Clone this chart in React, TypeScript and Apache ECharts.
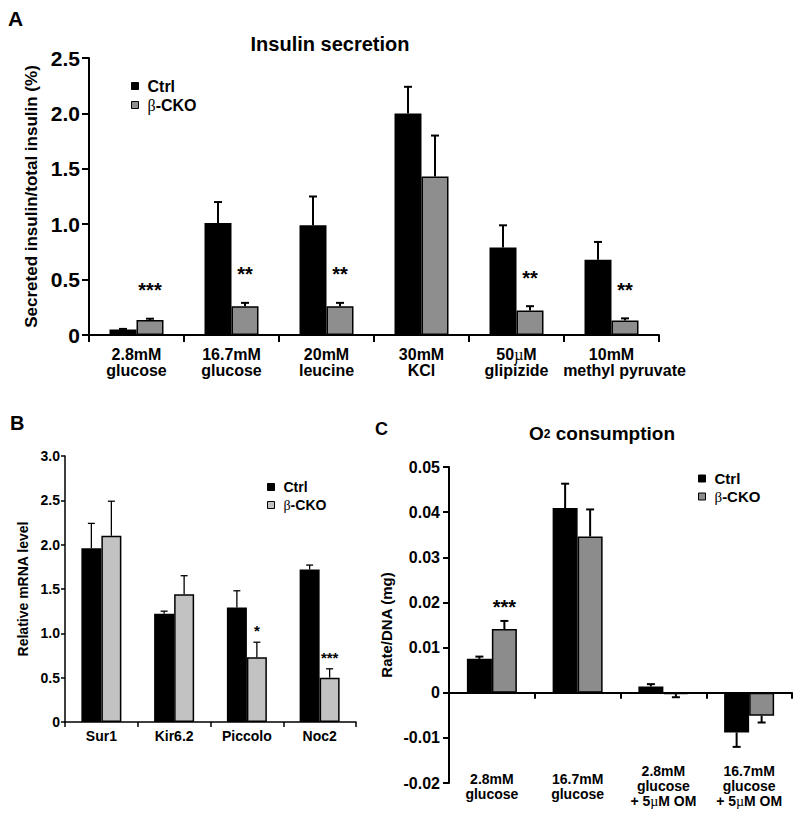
import React, { useEffect, useRef } from 'react';
import * as echarts from 'echarts';

// ---------- Panel A : Insulin secretion ----------
const catsA = ['2.8mM\nglucose', '16.7mM\nglucose', '20mM\nleucine', '30mM\nKCl', '50µM\nglipizide', '10mM\nmethyl pyruvate'];
const ctrlA = [0.05, 1.01, 0.99, 2.0, 0.79, 0.68];
const ctrlSemA = [0.005, 0.19, 0.26, 0.24, 0.2, 0.16];
const koA = [0.135, 0.26, 0.26, 1.43, 0.22, 0.13];
const koSemA = [0.012, 0.03, 0.03, 0.37, 0.04, 0.02];
const starsA = ['***', '**', '**', '', '**', '**'];
const axisA = { min: 0, max: 2.5, interval: 0.5 };

// ---------- Panel B : Relative mRNA level ----------
const catsB = ['Sur1', 'Kir6.2', 'Piccolo', 'Noc2'];
const ctrlB = [1.96, 1.22, 1.29, 1.72];
const ctrlSemB = [0.28, 0.03, 0.19, 0.05];
const koB = [2.1, 1.44, 0.73, 0.5];
const koSemB = [0.39, 0.21, 0.17, 0.1];
const starsB = ['', '', '*', '***'];
const axisB = { min: 0, max: 3, interval: 0.5 };

// ---------- Panel C : O2 consumption ----------
const catsC = ['2.8mM\nglucose', '16.7mM\nglucose', '2.8mM\nglucose\n+ 5µM OM', '16.7mM\nglucose\n+ 5µM OM'];
const ctrlC = [0.0075, 0.0409, 0.0014, -0.0088];
const ctrlSemC = [0.0005, 0.0054, 0.0005, 0.0032];
const koC = [0.0141, 0.0346, -0.0003, -0.0051];
const koSemC = [0.0018, 0.006, 0.0007, 0.0015];
const starsC = ['***', '', '', ''];
const axisC = { min: -0.02, max: 0.05, interval: 0.01 };

const FF = '"Liberation Sans", Arial, Helvetica, sans-serif';
const SERIF = '"Liberation Serif", "DejaVu Serif", serif';

const GRAY_A = '#8e8e8e';
const GRAY_B = '#c2c2c2';
const GRAY_C = '#8c8c8c';

const greek = (s: string) => s.replace(/µ/g, '{m|µ}').replace(/β/g, '{m|β}');

// long second lines sit slightly to the right in the reference
const catLabel = (v: string) =>
  v.split('\n').map((ln) => (ln.length > 12 ? '{w|' + ln + '}' : greek(ln))).join('\n');

function errSeries(grid: number, vals: number[], sems: number[], offset: number, cap: number, lw: number,
  stars: string[] | null, starFont: number, starGap: number) {
  return {
    type: 'custom',
    xAxisIndex: grid,
    yAxisIndex: grid,
    z: 5,
    silent: true,
    data: vals.map((v, i) => [i, v, v + (v < 0 ? -1 : 1) * sems[i]]),
    renderItem: (params: any, api: any) => {
      const i = api.value(0);
      const v = api.value(1);
      const e = api.value(2);
      const a = api.coord([i, v]);
      const b = api.coord([i, e]);
      const x = a[0] + offset;
      const children: any[] = [
        { type: 'line', shape: { x1: x, y1: a[1], x2: x, y2: b[1] }, style: { stroke: '#000', lineWidth: lw } },
        { type: 'line', shape: { x1: x - cap / 2, y1: b[1], x2: x + cap / 2, y2: b[1] }, style: { stroke: '#000', lineWidth: lw } },
      ];
      const s = stars ? stars[params.dataIndex] : '';
      if (s) {
        children.push({
          type: 'text',
          x,
          y: b[1] - starGap + 0.23 * starFont,
          style: { text: s, fontSize: starFont, fontWeight: 'bold', fontFamily: FF, fill: '#000', align: 'center', verticalAlign: 'middle' },
        });
      }
      return { type: 'group', children };
    },
  };
}

function legendFor(left: number, top: number, fontSize: number, gap: number, gray: string) {
  return {
    left,
    top,
    orient: 'vertical',
    padding: 0,
    icon: 'rect',
    itemWidth: 7,
    itemHeight: 7,
    itemGap: gap,
    selectedMode: false,
    data: [
      { name: 'Ctrl', itemStyle: { color: '#000', borderColor: '#000', borderWidth: 1 } },
      { name: 'β-CKO', itemStyle: { color: gray, borderColor: '#000', borderWidth: 1 } },
    ],
    formatter: (n: string) => greek(n),
    textStyle: {
      fontSize,
      fontWeight: 'bold',
      fontFamily: FF,
      color: '#000',
      lineHeight: fontSize,
      padding: [0, 0, 0, 4],
      rich: { m: { fontSize, fontFamily: SERIF, fontWeight: 'normal', color: '#000', lineHeight: fontSize } },
    },
  };
}

const numFmt = (d: number) => (v: number) => (Math.abs(v) < 1e-9 ? '0' : v.toFixed(d));

function yAxisFor(grid: number, ax: any, name: string, nameGap: number, nameSize: number, labelSize: number,
  margin: number, tickLen: number, lw: number, dec: number) {
  return {
    type: 'value',
    gridIndex: grid,
    min: ax.min,
    max: ax.max,
    interval: ax.interval,
    name,
    nameLocation: 'middle',
    nameGap,
    nameTextStyle: { fontSize: nameSize, fontWeight: 'bold', fontFamily: FF, color: '#000' },
    axisLine: { show: true, onZero: false, lineStyle: { color: '#000', width: lw } },
    axisTick: { show: true, length: tickLen, lineStyle: { color: '#000', width: lw } },
    splitLine: { show: false },
    axisLabel: { fontSize: labelSize, fontWeight: 'bold', fontFamily: FF, color: '#000', margin, formatter: numFmt(dec) },
  };
}

function xAxisFor(grid: number, cats: string[], fontSize: number, lineHeight: number, margin: number,
  tickLen: number, lw: number, opts: any = {}) {
  const rich = {
    m: { fontSize, lineHeight, fontFamily: SERIF, fontWeight: 'normal', color: '#000' },
    w: { fontSize, lineHeight, fontFamily: FF, fontWeight: 'bold', color: '#000', padding: [0, 0, 0, 26] },
  };
  return {
    type: 'category',
    gridIndex: grid,
    data: cats,
    position: 'bottom',
    axisLine: { show: opts.line !== false, onZero: opts.onZero !== false, lineStyle: { color: '#000', width: lw } },
    axisTick: { show: opts.line !== false, length: tickLen, alignWithLabel: false, lineStyle: { color: '#000', width: lw } },
    splitLine: { show: false },
    axisLabel: {
      show: opts.labels !== false,
      interval: 0,
      fontSize,
      lineHeight,
      fontWeight: 'bold',
      fontFamily: FF,
      color: '#000',
      margin,
      verticalAlign: opts.vAlign || 'top',
      formatter: (v: string) => catLabel(v),
      rich,
    },
  };
}

function barSeries(grid: number, name: string, vals: number[], color: string, width: number) {
  return {
    type: 'bar',
    name,
    xAxisIndex: grid,
    yAxisIndex: grid,
    data: vals,
    barWidth: width,
    barGap: '0%',
    itemStyle: { color, borderColor: '#000', borderWidth: 1.5 },
  };
}

export default function App() {
  const ref = useRef<HTMLDivElement>(null);

  useEffect(() => {
    if (!ref.current) return;
    const chart = echarts.init(ref.current, null, { renderer: 'svg' });
    const wA = 27, wB = 20, wC = 25;
    const option: any = {
      animation: false,
      backgroundColor: '#fff',
      textStyle: { fontFamily: FF },
      grid: [
        { left: 89, top: 58, width: 570, height: 277, outerBoundsMode: 'none', containLabel: false },
        { left: 65, top: 456, width: 291, height: 266, outerBoundsMode: 'none', containLabel: false },
        { left: 449, top: 467, width: 343, height: 316, outerBoundsMode: 'none', containLabel: false },
      ],
      xAxis: [
        xAxisFor(0, catsA, 16, 16, 11, 7, 2),
        xAxisFor(1, catsB, 14, 16, 6, 5, 1.5),
        xAxisFor(2, catsC, 14, 15, 8, 6, 2, { labels: false }),
        xAxisFor(2, catsC, 14, 15, 3, 6, 2, { line: false, onZero: false, vAlign: 'middle' }),
      ],
      yAxis: [
        yAxisFor(0, axisA, 'Secreted insulin/total insulin (%)', 47, 17, 21, 9, 7, 2, 1),
        yAxisFor(1, axisB, 'Relative mRNA level', 35, 14, 14, 5, 4, 1.5, 1),
        yAxisFor(2, axisC, 'Rate/DNA (mg)', 55, 15, 16, 9, 6, 2, 2),
      ],
      legend: [
        legendFor(131, 78, 16, 3, GRAY_A),
        legendFor(267, 480, 14, 4, GRAY_B),
        legendFor(698, 471, 15, 3, GRAY_C),
      ],
      graphic: [
        { type: 'text', x: 8, y: 18, style: { text: 'A', fontSize: 21, fontWeight: 'bold', fontFamily: FF, fill: '#000', align: 'left', verticalAlign: 'middle' } },
        { type: 'text', x: 10, y: 423, style: { text: 'B', fontSize: 20, fontWeight: 'bold', fontFamily: FF, fill: '#000', align: 'left', verticalAlign: 'middle' } },
        { type: 'text', x: 375, y: 429, style: { text: 'C', fontSize: 18, fontWeight: 'bold', fontFamily: FF, fill: '#000', align: 'left', verticalAlign: 'middle' } },
        { type: 'text', x: 330, y: 44, style: { text: 'Insulin secretion', fontSize: 20, fontWeight: 'bold', fontFamily: FF, fill: '#000', align: 'center', verticalAlign: 'middle' } },
        {
          type: 'text', x: 602, y: 433,
          style: {
            text: '{n|O}{s|2}{n| consumption}',
            align: 'center', verticalAlign: 'middle', fill: '#000',
            rich: {
              n: { fontSize: 19, fontWeight: 'bold', fontFamily: FF, fill: '#000', lineHeight: 20 },
              s: { fontSize: 12, fontWeight: 'bold', fontFamily: FF, fill: '#000', lineHeight: 20, verticalAlign: 'bottom', padding: [0, 0, 3, 0] },
            },
          },
        },
      ],
      series: [
        barSeries(0, 'Ctrl', ctrlA, '#000', wA),
        barSeries(0, 'β-CKO', koA, GRAY_A, wA),
        errSeries(0, ctrlA, ctrlSemA, -wA / 2, 8, 2, null, 20, 32),
        errSeries(0, koA, koSemA, wA / 2, 8, 2, starsA, 20, 33),

        barSeries(1, 'Ctrl', ctrlB, '#000', wB),
        barSeries(1, 'β-CKO', koB, GRAY_B, wB),
        errSeries(1, ctrlB, ctrlSemB, -wB / 2, 7, 1.3, null, 15, 14),
        errSeries(1, koB, koSemB, wB / 2, 7, 1.3, starsB, 15, 15),

        barSeries(2, 'Ctrl', ctrlC, '#000', wC),
        barSeries(2, 'β-CKO', koC, GRAY_C, wC),
        errSeries(2, ctrlC, ctrlSemC, -wC / 2, 8, 2, null, 20, 19),
        errSeries(2, koC, koSemC, wC / 2, 8, 2, starsC, 20, 19),
      ],
    };
    chart.setOption(option);
    return () => chart.dispose();
  }, []);

  return <div ref={ref} style={{ position: 'absolute', left: 0, top: 0, width: 800, height: 817, background: '#fff' }} />;
}
